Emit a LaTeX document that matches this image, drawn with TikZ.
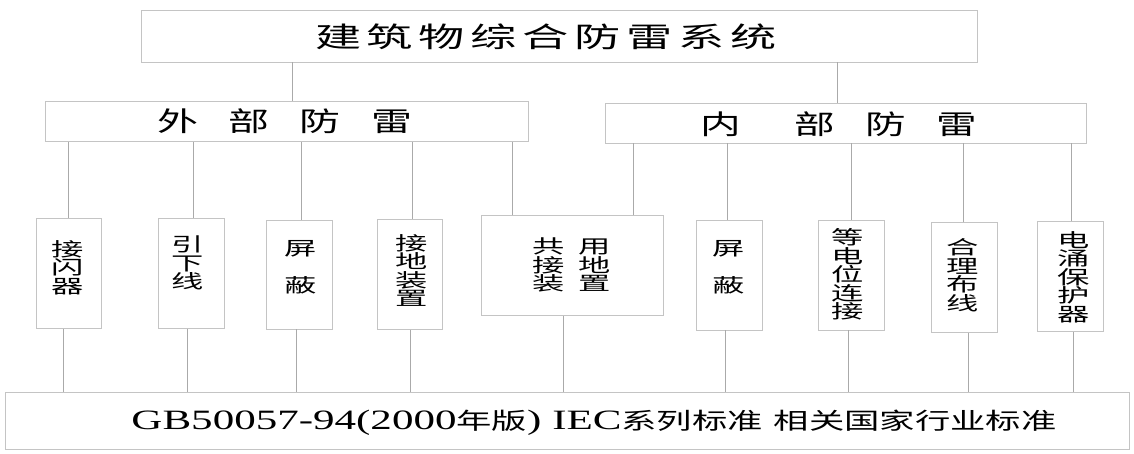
\documentclass[tikz,border=0pt]{standalone}
\usepackage{fontspec}
\usepackage{graphicx}
\setmainfont{Liberation Serif}
\newfontfamily\cjk{Noto Sans CJK SC}
\newfontfamily\cjkcol[FakeStretch=1.7]{Noto Sans CJK SC}
\definecolor{boxclr}{RGB}{196,196,196}
\definecolor{lineclr}{RGB}{170,170,170}
\tikzset{
  box/.style={rectangle,draw=boxclr,line width=0.9pt,inner sep=0pt},
  colbox/.style={box,minimum width=65.7pt,minimum height=110pt},
  conn/.style={draw=lineclr,line width=0.9pt},
  headtxt/.style={font=\fontsize{27}{27}\selectfont\cjk,inner sep=0pt},
  coltxt/.style={font=\fontsize{19}{18.5}\selectfont\cjkcol,align=center,inner sep=0pt},
}

\begin{document}
\begin{tikzpicture}[x=1pt,y=-1pt]
\useasboundingbox (0,0) rectangle (1134,453);
% boxes
\node[box,minimum width=836pt,minimum height=52pt] (top) at (559,36) {};
\node[box,minimum width=483pt,minimum height=40.7pt] (ext) at (287.2,121.4) {};
\node[box,minimum width=481pt,minimum height=40pt] (int) at (846.2,123) {};
\node[colbox] (jsq) at (68.9,273.3) {};
\node[colbox] (yxx) at (191.2,273.3) {};
\node[colbox,minimum height=109pt] (pbo) at (299.5,274.5) {};
\node[colbox,minimum height=109.7pt] (jdz) at (410,274.2) {};
\node[box,minimum width=181.6pt,minimum height=99.6pt] (gyjd) at (572.5,265.5) {};
\node[colbox] (pbi) at (729.5,275) {};
\node[colbox,minimum width=66pt] (ddw) at (851.3,275) {};
\node[colbox,minimum height=109.6pt] (hlbx) at (964.5,277.5) {};
\node[colbox,minimum width=66pt] (dybh) at (1070.3,276.7) {};
\node[box,minimum width=1123.6pt,minimum height=56.6pt] (base) at (567.5,421) {};
% texts
\node[font=\fontsize{28}{28}\selectfont\cjk,inner sep=0pt] (toptxt) at (546,37)
  {\resizebox{462pt}{\height}{建\hspace{3.5pt}筑\hspace{3.5pt}物\hspace{3.5pt}综\hspace{3.5pt}合\hspace{3.5pt}防\hspace{3.5pt}雷\hspace{3.5pt}系\hspace{3.5pt}统}};
\node[headtxt] (exttxt) at (284.5,121.5)
  {\resizebox{255pt}{\height}{外\hspace{20pt}部\hspace{20pt}防\hspace{20pt}雷}};
\node[headtxt] (inttxt) at (838.5,124)
  {\resizebox{277pt}{\height}{内\hspace{36pt}部\hspace{20pt}防\hspace{20pt}雷}};
\node[coltxt] (jsqtxt) at (67.5,267.5) {接\\闪\\器};
\node[coltxt] (yxxtxt) at (187.5,263) {引\\下\\线};
\node[coltxt] (pbotxt) at (300.5,267.5) {屏\\[18.5pt]蔽};
\node[coltxt] (jdztxt) at (411.7,270.5) {接\\地\\装\\置};
\node[coltxt] (gyjdtxt) at (571.5,265) {共\hspace{14pt}用\\接\hspace{14pt}地\\装\hspace{14pt}置};
\node[coltxt] (pbitxt) at (729,267.5) {屏\\[18.5pt]蔽};
\node[coltxt] (ddwtxt) at (848,274.5) {等\\电\\位\\连\\接};
\node[coltxt] (hlbxtxt) at (963,275) {合\\理\\布\\线};
\node[coltxt] (dybhtxt) at (1074,277) {电\\涌\\保\\护\\器};
\node[font=\fontsize{28}{28}\selectfont,inner sep=0pt] (basetxt) at (594,422.5)
  {\resizebox{925pt}{\height}{GB50057-94(2000{\fontsize{23}{23}\selectfont\cjk 年版}) IEC{\fontsize{23}{23}\selectfont\cjk 系列标准} {\fontsize{23}{23}\selectfont\cjk 相关国家行业标准}}};
% connectors
\draw[conn] ([xshift=4.8pt]ext.north) -- ([xshift=4.8pt]ext.north |- top.south);
\draw[conn] ([xshift=-8.5pt]int.north) -- ([xshift=-8.5pt]int.north |- top.south);
\draw[conn] (jsq.north) -- (jsq.north |- ext.south);
\draw[conn] ([xshift=2pt]yxx.north) -- ([xshift=2pt]yxx.north |- ext.south);
\draw[conn] ([xshift=2pt]pbo.north) -- ([xshift=2pt]pbo.north |- ext.south);
\draw[conn] ([xshift=2.4pt]jdz.north) -- ([xshift=2.4pt]jdz.north |- ext.south);
\draw[conn] ([xshift=-60.5pt]gyjd.north) -- ([xshift=-60.5pt]gyjd.north |- ext.south);
\draw[conn] ([xshift=60.5pt]gyjd.north) -- ([xshift=60.5pt]gyjd.north |- int.south);
\draw[conn] ([xshift=-2.5pt]pbi.north) -- ([xshift=-2.5pt]pbi.north |- int.south);
\draw[conn] (ddw.north) -- (ddw.north |- int.south);
\draw[conn] ([xshift=-1.2pt]hlbx.north) -- ([xshift=-1.2pt]hlbx.north |- int.south);
\draw[conn] ([xshift=0.7pt]dybh.north) -- ([xshift=0.7pt]dybh.north |- int.south);
\draw[conn] ([xshift=-5.2pt]jsq.south) -- ([xshift=-5.2pt]jsq.south |- base.north);
\draw[conn] ([xshift=-3.9pt]yxx.south) -- ([xshift=-3.9pt]yxx.south |- base.north);
\draw[conn] ([xshift=-2.8pt]pbo.south) -- ([xshift=-2.8pt]pbo.south |- base.north);
\draw[conn] ([xshift=0.7pt]jdz.south) -- ([xshift=0.7pt]jdz.south |- base.north);
\draw[conn] ([xshift=-8.8pt]gyjd.south) -- ([xshift=-8.8pt]gyjd.south |- base.north);
\draw[conn] ([xshift=-4.2pt]pbi.south) -- ([xshift=-4.2pt]pbi.south |- base.north);
\draw[conn] ([xshift=-3pt]ddw.south) -- ([xshift=-3pt]ddw.south |- base.north);
\draw[conn] ([xshift=4.2pt]hlbx.south) -- ([xshift=4.2pt]hlbx.south |- base.north);
\draw[conn] ([xshift=3pt]dybh.south) -- ([xshift=3pt]dybh.south |- base.north);
\end{tikzpicture}
\end{document}
